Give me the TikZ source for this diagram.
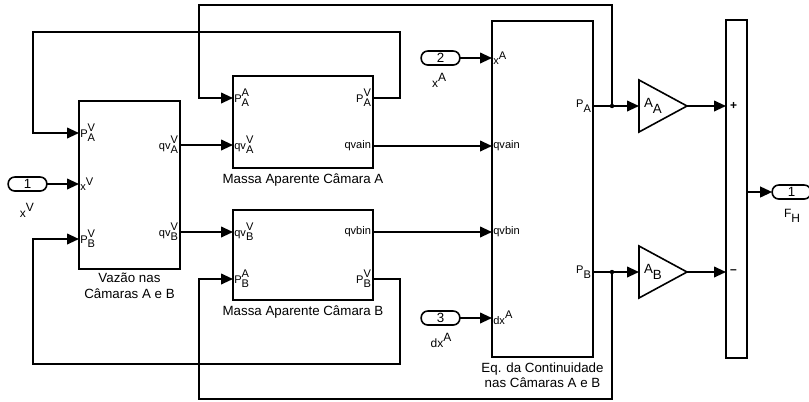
\documentclass[tikz,border=0pt]{standalone}
\usepackage{fontspec}
\setmainfont{Liberation Sans}
\usetikzlibrary{positioning, arrows.meta, shapes.geometric}

% stacked sub- and superscript as Simulink prints them
\newcommand{\sbsp}[3]{#1\rlap{\raisebox{-0.42em}{#2}}\raisebox{0.5em}{#3}}
\newcommand{\spo}[2]{#1\raisebox{0.5em}{#2}}
\newcommand{\sbo}[2]{#1\raisebox{-0.42em}{#2}}

\tikzset{
  block/.style={draw, line width=1.2pt, inner sep=0pt, outer sep=0pt},
  sig/.style={line width=1.4pt, -{Triangle[length=9pt, width=8pt]}},
  wire/.style={line width=1.4pt},
  inlbl/.style={anchor=west, inner sep=1pt, outer sep=0pt, font=\fontsize{8.3}{9}\selectfont},
  outlbl/.style={anchor=east, inner sep=1.5pt, outer sep=0pt, font=\fontsize{8.3}{9}\selectfont},
  port/.style={draw, line width=1.2pt, rounded corners=5pt, minimum width=29pt,
    minimum height=10.5pt, inner sep=0pt, outer sep=0pt, font=\fontsize{10}{12}\selectfont},
  portlbl/.style={inner sep=0pt, font=\fontsize{9}{10}\selectfont},
  gain/.style={draw, line width=1.2pt, isosceles triangle, isosceles triangle stretches,
    minimum width=39pt, minimum height=36pt, inner sep=1pt, outer sep=0pt, anchor=apex,
    font=\fontsize{10}{11}\selectfont},
  caption/.style={inner sep=1pt, align=center, font=\fontsize{10}{11.5}\selectfont}
}

\begin{document}
\begin{tikzpicture}[x=0.75pt, y=-0.75pt]
  \useasboundingbox (0,0) rectangle (809,401);

  % blocks
  \node[block, minimum width=75.75pt, minimum height=126pt] (vaz) at (129.5,185) {};
  \node[block, minimum width=105pt, minimum height=69pt] (massaA) at (303,122) {};
  \node[block, minimum width=105pt, minimum height=67.5pt] (massaB) at (303,255) {};
  \node[block, minimum width=75.75pt, minimum height=252pt] (eq) at (542.5,189) {};
  \node[block, minimum width=15.75pt, minimum height=253.5pt] (sum) at (736.5,189) {};

  \node[caption, below=2pt of vaz] {Vazão nas\\Câmaras A e B};
  \node[caption, below=3pt of massaA] {Massa Aparente Câmara A};
  \node[caption, below=3pt of massaB] {Massa Aparente Câmara B};
  \node[caption, below=3pt of eq] {Eq. da Continuidade\\nas Câmaras A e B};

  % port labels
  \node[inlbl] (vazPA) at (79,133) {\sbsp{P}{A}{V}};
  \node[inlbl] (vazXV) at (79,184) {\spo{x}{V}};
  \node[inlbl] (vazPB) at (79,239) {\sbsp{P}{B}{V}};
  \node[outlbl] (vazQA) at (180,145) {\sbsp{qv}{A}{V}};
  \node[outlbl] (vazQB) at (180,232) {\sbsp{qv}{B}{V}};

  \node[inlbl] (maPAA) at (233,98) {\sbsp{P}{A}{A}};
  \node[inlbl] (maQA) at (233,145) {\sbsp{qv}{A}{V}};
  \node[outlbl] (maPAV) at (373,98) {\sbsp{P}{A}{V}};
  \node[outlbl] (maQain) at (373,146) {qvain};

  \node[inlbl] (mbQB) at (233,232) {\sbsp{qv}{B}{V}};
  \node[inlbl] (mbPBA) at (233,279) {\sbsp{P}{B}{A}};
  \node[outlbl] (mbQbin) at (373,232) {qvbin};
  \node[outlbl] (mbPBV) at (373,279) {\sbsp{P}{B}{V}};

  \node[inlbl] (eqXA) at (492,58) {\spo{x}{A}};
  \node[inlbl] (eqQain) at (492,146) {qvain};
  \node[inlbl] (eqQbin) at (492,232) {qvbin};
  \node[inlbl] (eqDXA) at (492,318) {\spo{dx}{A}};
  \node[outlbl] (eqPA) at (593,106) {\sbo{P}{A}};
  \node[outlbl] (eqPB) at (593,272) {\sbo{P}{B}};

  \node[inlbl, inner sep=3pt, font=\bfseries\fontsize{9}{10}\selectfont] (sumP) at (726,106) {+};
  \node[inlbl, inner sep=3pt, font=\bfseries\fontsize{9}{10}\selectfont] (sumM) at (726,272) {--};

  % inports, outport
  \node[port] (in1) at (27.5,184) {1};
  \node[portlbl] at (27,210) {\spo{x}{V}};
  \node[port] (in2) at (440.5,58) {2};
  \node[portlbl] at (439,80) {\spo{x}{A}};
  \node[port] (in3) at (440.5,318) {3};
  \node[portlbl] at (441,340) {\spo{dx}{A}};
  \node[port] (out1) at (791.5,192) {1};
  \node[portlbl] at (792,216) {\sbo{F}{H}};

  % gains
  \node[gain] (gA) at (687,106) {\sbo{A}{A}};
  \node[gain] (gB) at (687,272) {\sbo{A}{B}};

  % branch points
  \coordinate (jA) at (612,106);
  \coordinate (jB) at (612,272);
  \fill (jA) circle (2.2);
  \fill (jB) circle (2.2);

  % signals
  \draw[sig] (in1) -- (vazXV.west);
  \draw[sig] (vazQA.east) -- (maQA.west);
  \draw[sig] (vazQB.east) -- (mbQB.west);
  \draw[sig] (maQain.east) -- (eqQain.west);
  \draw[sig] (mbQbin.east) -- (eqQbin.west);
  \draw[sig] (in2) -- (eqXA.west);
  \draw[sig] (in3) -- (eqDXA.west);
  \draw[sig] (maPAV.east) -| (400,32) -| (33,133) -- (vazPA.west);
  \draw[sig] (mbPBV.east) -| (400,364) -| (33,239) -- (vazPB.west);
  \draw[sig] (eqPA.east) -- (gA.west);
  \draw[sig] (eqPB.east) -- (gB.west);
  \draw[sig] (jA) |- (199,5) |- (maPAA.west);
  \draw[sig] (jB) |- (199,399) |- (mbPBA.west);
  \draw[sig] (gA.apex) -- (sumP.west);
  \draw[sig] (gB.apex) -- (sumM.west);
  \draw[sig] (sum.east |- out1.west) -- (out1.west);
\end{tikzpicture}
\end{document}
